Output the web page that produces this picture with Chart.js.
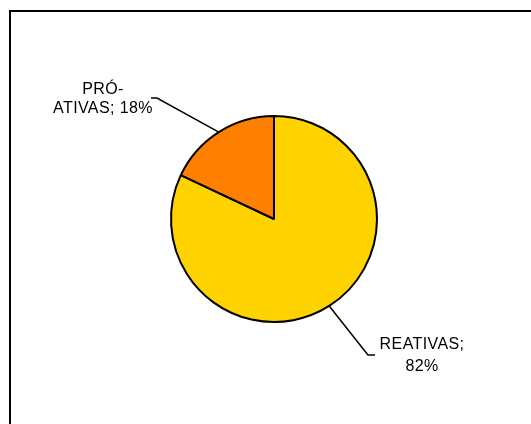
<!DOCTYPE html>
<html>
<head>
<meta charset="utf-8">
<script src="https://cdn.jsdelivr.net/npm/chart.js@4"></script>
<style>
  html, body { margin: 0; padding: 0; background: #fff; }
  #wrap { position: relative; width: 531px; height: 424px; }
</style>
</head>
<body>
<div id="wrap"><canvas id="c" width="531" height="424"></canvas></div>
<script>
const categories = ['REATIVAS', 'PRÓ-ATIVAS'];
const values = [82, 18];
const sliceColors = ['#FFD300', '#FF7F00'];
const labelLines = [['REATIVAS;', '82%'], ['PRÓ-', 'ATIVAS; 18%']];

// label layout relative to pie centre: elbow point, end point, text centre x, text baselines
const labelLayout = [
  { elbow: [94, 136], end: [101, 136], tx: 148, ty: [130, 152], align: 'center' },
  { elbow: [-117, -121], end: [-123, -121], tx: -171, ty: [-125, -106], align: 'center' }
];

const framePlugin = {
  id: 'frame',
  beforeDraw(chart) {
    const ctx = chart.ctx;
    ctx.save();
    ctx.fillStyle = '#fff';
    ctx.fillRect(0, 0, chart.width, chart.height);
    ctx.fillStyle = '#000';
    ctx.fillRect(9, 10, chart.width - 9, 2);
    ctx.fillRect(9, 10, 2, chart.height - 10);
    ctx.restore();
  }
};

const labelPlugin = {
  id: 'pieLabels',
  afterDatasetsDraw(chart) {
    const ctx = chart.ctx;
    const meta = chart.getDatasetMeta(0);
    ctx.save();
    meta.data.forEach((arc, i) => {
      const cx = arc.x, cy = arc.y;
      const mid = (arc.startAngle + arc.endAngle) / 2;
      const r = arc.outerRadius;
      const sx = cx + Math.cos(mid) * r;
      const sy = cy + Math.sin(mid) * r;
      const L = labelLayout[i];
      ctx.strokeStyle = '#000';
      ctx.lineWidth = 1.5;
      ctx.beginPath();
      ctx.moveTo(sx, sy);
      ctx.lineTo(cx + L.elbow[0], cy + L.elbow[1]);
      ctx.lineTo(cx + L.end[0], cy + L.end[1]);
      ctx.stroke();
      ctx.fillStyle = '#000';
      ctx.font = '16px "Liberation Sans", Arial, sans-serif';
      ctx.letterSpacing = '0.4px';
      ctx.textAlign = L.align;
      ctx.textBaseline = 'alphabetic';
      labelLines[i].forEach((t, j) => {
        ctx.fillText(t, cx + L.tx, cy + L.ty[j]);
      });
    });
    ctx.restore();
  }
};

new Chart(document.getElementById('c'), {
  type: 'pie',
  data: {
    labels: categories,
    datasets: [{
      data: values,
      backgroundColor: sliceColors,
      borderColor: '#000',
      borderWidth: 2
    }]
  },
  options: {
    responsive: false,
    animation: false,
    radius: 103,
    rotation: 0,
    layout: { padding: { left: 17, right: 0, top: 14, bottom: 0 } },
    plugins: {
      legend: { display: false },
      tooltip: { enabled: false }
    }
  },
  plugins: [framePlugin, labelPlugin]
});
</script>
</body>
</html>
